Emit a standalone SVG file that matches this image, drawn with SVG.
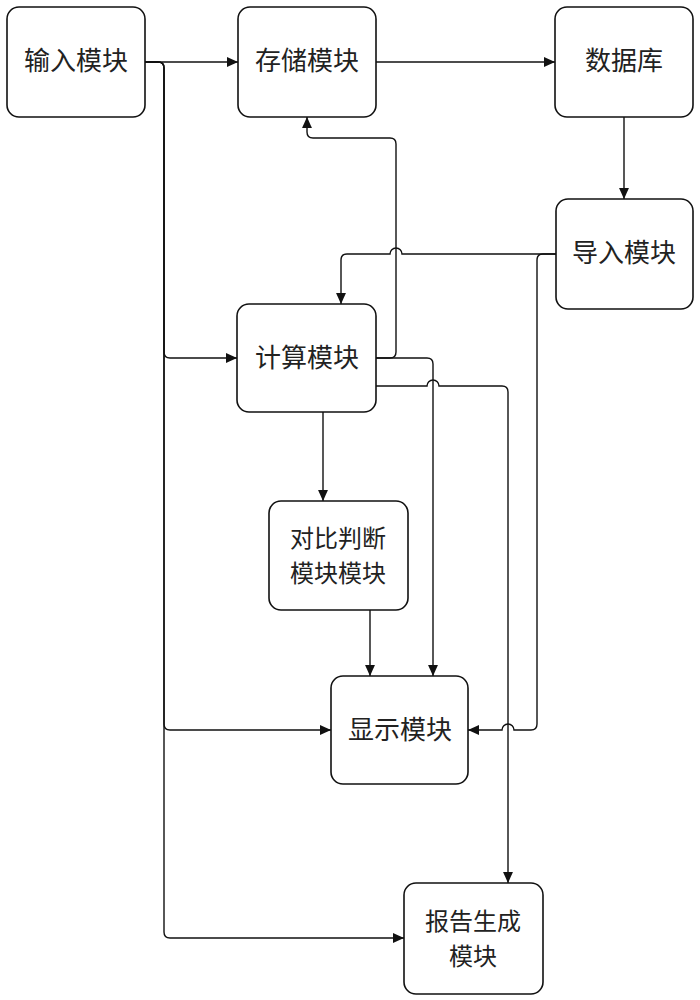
<svg xmlns="http://www.w3.org/2000/svg" width="700" height="1000" viewBox="0 0 700 1000">
<style>
.box{fill:#fff;stroke:#111;stroke-width:1.6}
.lbl{font-family:"Noto Sans CJK SC","Liberation Sans",sans-serif;font-size:26px;fill:#222;text-anchor:middle}
.two{font-size:24px}
.c{fill:none;stroke:#111;stroke-width:1.4}
.a{marker-end:url(#arr)}
</style>
<defs>
<marker id="arr" viewBox="0 0 10 9" refX="10" refY="4.5" markerWidth="11" markerHeight="10" markerUnits="userSpaceOnUse" orient="auto"><path d="M0,0 L10,4.5 L0,9 z" fill="#111"/></marker>
</defs>
<rect width="700" height="1000" fill="#fff"/>
<g id="connectors">
<path class="c a" d="M145,62 H238"/>
<path class="c a" d="M145,62 H158 Q164,62 164,68 V352 Q164,358 170,358 H237"/>
<path class="c a" d="M145,62 H158 Q164,62 164,68 V724 Q164,730 170,730 H331"/>
<path class="c a" d="M145,62 H158 Q164,62 164,68 V932 Q164,938 170,938 H404"/>
<path class="c a" d="M376,62 H555"/>
<path class="c a" d="M624,117 V199"/>
<path class="c a" d="M556,254 H402 A6,6 0 0 0 390,254 H347 Q341,254 341,260 V304"/>
<path class="c a" d="M376,358 H390 Q396,358 396,352 V144 Q396,138 390,138 H313 Q307,138 307,132 V117"/>
<path class="c a" d="M376,358 H427 Q433,358 433,364 V676"/>
<path class="c a" d="M376,386 H427 A6,6 0 0 1 439,386 H502 Q508,386 508,392 V883"/>
<path class="c a" d="M323,412 V501"/>
<path class="c a" d="M370,610 V676"/>
<path class="c a" d="M556,254 H543 Q537,254 537,260 V724 Q537,730 531,730 H514 A6,6 0 0 0 502,730 H468"/>
</g>
<g id="input"><rect class="box" x="7" y="7" width="138" height="110" rx="12"/><text class="lbl" x="76" y="70">输入模块</text></g>
<g id="storage"><rect class="box" x="238" y="7" width="138" height="110" rx="12"/><text class="lbl" x="307" y="70">存储模块</text></g>
<g id="database"><rect class="box" x="555" y="7" width="138" height="110" rx="12"/><text class="lbl" x="624" y="70">数据库</text></g>
<g id="import"><rect class="box" x="556" y="199" width="137" height="110" rx="12"/><text class="lbl" x="624" y="262">导入模块</text></g>
<g id="compute"><rect class="box" x="237" y="304" width="139" height="108" rx="12"/><text class="lbl" x="307" y="367">计算模块</text></g>
<g id="compare"><rect class="box" x="269" y="501" width="139" height="109" rx="12"/><text class="lbl two" x="338" y="547"><tspan x="338" y="547">对比判断</tspan><tspan x="338" y="582">模块模块</tspan></text></g>
<g id="display"><rect class="box" x="331" y="676" width="137" height="108" rx="12"/><text class="lbl" x="400" y="739">显示模块</text></g>
<g id="report"><rect class="box" x="404" y="883" width="139" height="111" rx="12"/><text class="lbl two" x="473" y="930"><tspan x="473" y="930">报告生成</tspan><tspan x="473" y="965">模块</tspan></text></g>
</svg>
